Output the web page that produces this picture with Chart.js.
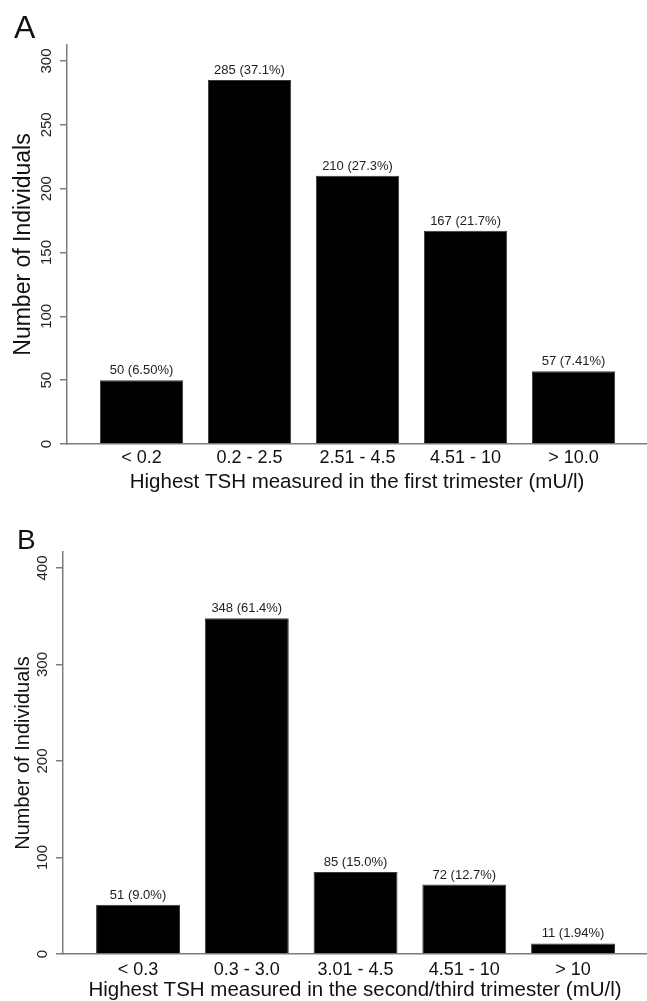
<!DOCTYPE html>
<html><head><meta charset="utf-8">
<script src="https://cdn.jsdelivr.net/npm/chart.js@4.4.1/dist/chart.umd.min.js"></script>
<style>
html,body{margin:0;padding:0;background:#fff;}
#wrap{position:relative;width:647px;height:1001px;overflow:hidden;background:#fff;}
.panel{position:absolute;left:0;width:647px;}
.tag{position:absolute;font-family:'Liberation Sans',Arial,Helvetica,sans-serif;line-height:1;color:#111;}
</style></head><body>
<div id="wrap">
 <div class="panel" style="top:0;height:500px"><canvas id="cA" width="647" height="500"></canvas></div>
 <div class="panel" style="top:500px;height:503px"><canvas id="cB" width="647" height="503"></canvas></div>
 <div class="tag" style="left:14px;top:11px;font-size:32px">A</div>
 <div class="tag" style="left:17px;top:526px;font-size:28px">B</div>
</div>
<script>
// ---- data ----
const categoriesA = ['< 0.2', '0.2 - 2.5', '2.51 - 4.5', '4.51 - 10', '> 10.0'];
const countsA = [50, 285, 210, 167, 57];
const percentsA = ['6.50%', '37.1%', '27.3%', '21.7%', '7.41%'];
const yTickStepA = 50;
const yMaxA = 312.5;
const xTitleA = 'Highest TSH measured in the first trimester (mU/l)';

const categoriesB = ['< 0.3', '0.3 - 3.0', '3.01 - 4.5', '4.51 - 10', '> 10'];
const countsB = [51, 348, 85, 72, 11];
const percentsB = ['9.0%', '61.4%', '15.0%', '12.7%', '1.94%'];
const yTickStepB = 100;
const yMaxB = 416.6;
const xTitleB = 'Highest TSH measured in the second/third trimester (mU/l)';

const yTitle = 'Number of Individuals';

// ---- rendering ----
const FONT = "'Liberation Sans', Arial, Helvetica, sans-serif";
const AXIS = '#7c7c7c';

const valueLabels = {
  id: 'valueLabels',
  afterDatasetsDraw(chart, args, opts) {
    const meta = chart.getDatasetMeta(0);
    const ctx = chart.ctx;
    ctx.save();
    ctx.font = '13px ' + FONT;
    ctx.fillStyle = '#222';
    ctx.textAlign = 'center';
    ctx.textBaseline = 'alphabetic';
    meta.data.forEach((bar, i) => {
      ctx.fillText(opts.counts[i] + ' (' + opts.pcts[i] + ')', bar.x, bar.y - 6);
    });
    ctx.restore();
  }
};

function makeChart(id, cats, counts, pcts, step, yMax, xTitle, L) {
  return new Chart(document.getElementById(id), {
    type: 'bar',
    data: {
      datasets: [{
        data: counts.map((v, i) => ({x: i, y: v})),
        backgroundColor: '#000',
        borderColor: '#3a3a3a',
        borderWidth: 1,
        borderSkipped: 'bottom',
        barPercentage: L.barPct,
        categoryPercentage: 1
      }]
    },
    options: {
      responsive: false,
      animation: false,
      devicePixelRatio: 1,
      layout: {padding: {top: L.top, right: 0, bottom: 0, left: 0}},
      plugins: {
        legend: {display: false},
        tooltip: {enabled: false},
        valueLabels: {counts: counts, pcts: pcts}
      },
      scales: {
        x: {
          type: 'linear',
          min: L.xMin, max: L.xMax,
          offset: false,
          border: {display: true, color: AXIS, width: 1.5},
          grid: {drawOnChartArea: false, drawTicks: false, offset: false},
          ticks: {
            stepSize: 1, includeBounds: false, autoSkip: false,
            maxRotation: 0, minRotation: 0, padding: L.xTickPad,
            color: '#111', font: {family: FONT, size: 18},
            callback: v => (cats[v] !== undefined ? cats[v] : '')
          },
          title: {display: true, text: xTitle, color: '#111',
                  font: {family: FONT, size: L.xTitleSize}, padding: {top: 0, bottom: L.xTitlePad}},
          afterFit: s => { s.height = L.xHeight; }
        },
        y: {
          min: 0, max: yMax,
          border: {display: true, color: AXIS, width: 1.5},
          grid: {drawOnChartArea: false, drawTicks: true, tickLength: 7, color: AXIS, lineWidth: 1.5},
          ticks: {
            stepSize: step, includeBounds: false,
            minRotation: 90, maxRotation: 90, crossAlign: 'center', padding: 1,
            color: '#222', font: {family: FONT, size: 15}
          },
          title: {display: true, text: yTitle, color: '#111',
                  font: {family: FONT, size: L.yTitleSize}, padding: {top: L.yTitlePad, bottom: 0}},
          afterFit: s => { s.width = L.yWidth; }
        }
      }
    },
    plugins: [valueLabels]
  });
}

makeChart('cA', categoriesA, countsA, percentsA, yTickStepA, yMaxA, xTitleA,
  {top: 45, yWidth: 67, xHeight: 56, xMin: -0.69, xMax: 4.68, barPct: 0.771,
   xTickPad: 3, xTitlePad: 5.5, xTitleSize: 20.5, yTitleSize: 23, yTitlePad: 10});
makeChart('cB', categoriesB, countsB, percentsB, yTickStepB, yMaxB, xTitleB,
  {top: 52, yWidth: 63, xHeight: 49, xMin: -0.69, xMax: 4.68, barPct: 0.772,
   xTickPad: 5, xTitlePad: 0.7, xTitleSize: 20.5, yTitleSize: 20, yTitlePad: 11});
</script>
</body></html>
